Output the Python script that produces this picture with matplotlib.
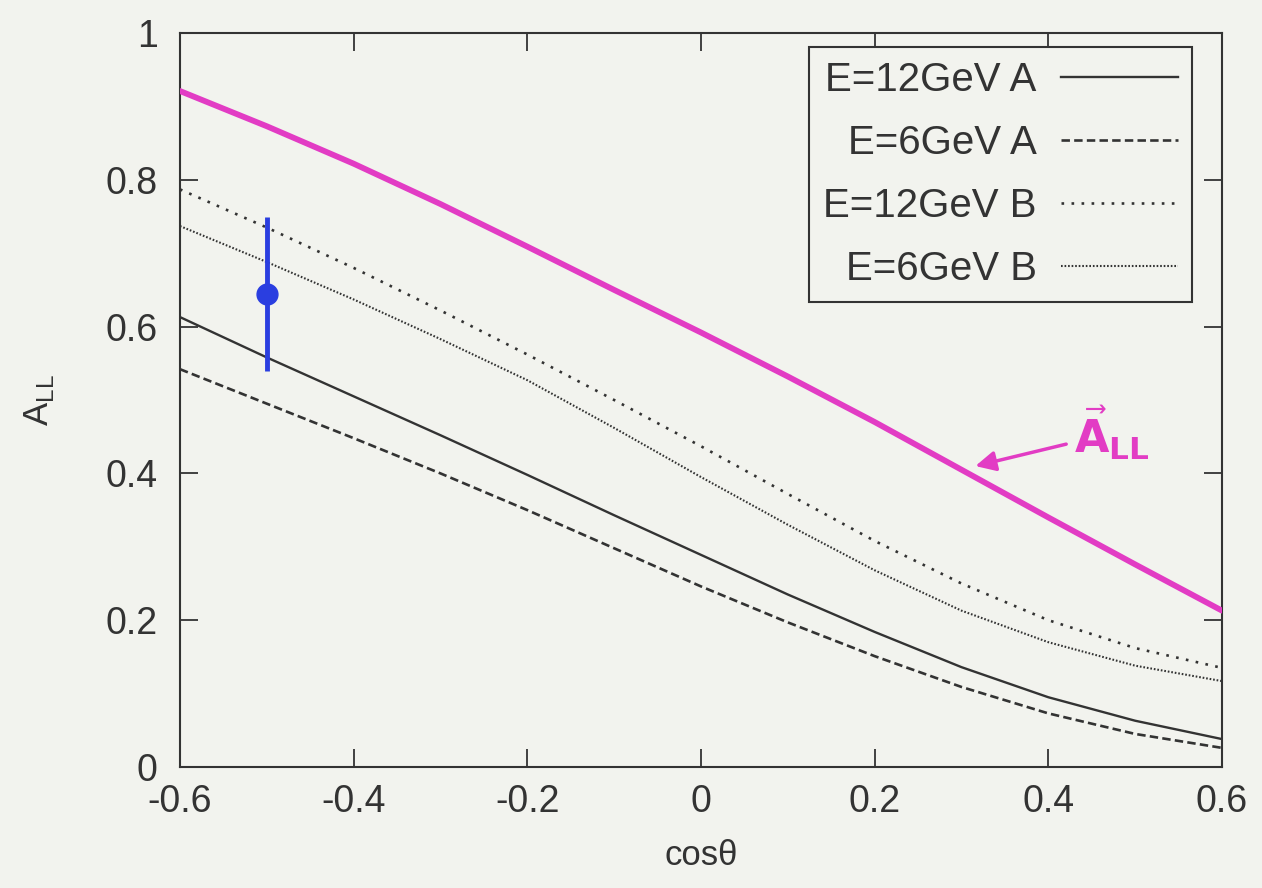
import matplotlib
matplotlib.use("Agg")
import matplotlib.pyplot as plt

plt.rcParams['font.family'] = ['Liberation Sans', 'DejaVu Sans']

# ---- data ----
cos_theta = [-0.6, -0.5, -0.4, -0.3, -0.2, -0.1, 0.0, 0.1, 0.2, 0.3, 0.4, 0.5, 0.6]
all_12A = [0.613, 0.558, 0.505, 0.452, 0.398, 0.343, 0.289, 0.235, 0.184, 0.136, 0.095, 0.063, 0.038]
all_6A = [0.542, 0.495, 0.448, 0.400, 0.350, 0.298, 0.246, 0.197, 0.151, 0.109, 0.073, 0.045, 0.026]
all_12B = [0.787, 0.735, 0.680, 0.622, 0.562, 0.500, 0.437, 0.372, 0.308, 0.250, 0.200, 0.162, 0.135]
all_6B = [0.737, 0.688, 0.637, 0.583, 0.527, 0.462, 0.395, 0.330, 0.268, 0.213, 0.170, 0.138, 0.117]
all_hat = [0.921, 0.873, 0.822, 0.767, 0.709, 0.650, 0.592, 0.532, 0.470, 0.405, 0.340, 0.276, 0.213]

point_x = [-0.5]
point_y = [0.645]
point_err = [0.105]

labels = ["E=12GeV A", "E=6GeV A", "E=12GeV B", "E=6GeV B"]
xticks = [-0.6, -0.4, -0.2, 0, 0.2, 0.4, 0.6]
xticklabels = ["-0.6", "-0.4", "-0.2", "0", "0.2", "0.4", "0.6"]
yticks = [0, 0.2, 0.4, 0.6, 0.8, 1]
yticklabels = ["0", "0.2", "0.4", "0.6", "0.8", "1"]

bg = '#f2f3ee'
ink = '#333333'
magenta = '#e23cc4'
blue = '#2a3ee0'

fig = plt.figure(figsize=(12.62, 8.88), dpi=100, facecolor=bg)
ax = fig.add_axes([0.1426, 0.1363, 0.8257, 0.8265])
ax.set_facecolor(bg)

ax.plot(cos_theta, all_12A, color=ink, lw=1.7, ls='-', label=labels[0])
ax.plot(cos_theta, all_6A, color=ink, lw=1.9, ls=(0, (3.2, 1.6)), label=labels[1])
ax.plot(cos_theta, all_12B, color=ink, lw=1.9, ls=(0, (1.0, 2.8)), label=labels[2])
ax.plot(cos_theta, all_6B, color=ink, lw=1.5, ls=(0, (0.8, 0.9)), label=labels[3])

ax.plot(cos_theta, all_hat, color=magenta, lw=4.2, solid_capstyle='round', zorder=4)

ax.errorbar(point_x, point_y, yerr=point_err, fmt='o', color=blue, ms=15,
            elinewidth=3.5, capsize=0, zorder=5)

ax.annotate(r'$\vec{\mathbf{A}}_{\mathbf{LL}}$', xy=(0.316, 0.41), xytext=(0.43, 0.455),
            color=magenta, fontsize=32,
            ha='left', va='center',
            arrowprops=dict(arrowstyle='-|>', color=magenta, lw=2.5,
                            mutation_scale=30, shrinkA=4, shrinkB=0))

ax.set_xlim(-0.6, 0.6)
ax.set_ylim(0, 1)
ax.set_xticks(xticks)
ax.set_xticklabels(xticklabels)
ax.set_yticks(yticks)
ax.set_yticklabels(yticklabels)
ax.tick_params(direction='in', length=13, width=1.3, top=True, right=True,
               labelsize=27, colors=ink)
ax.tick_params(axis='x', pad=12)
ax.tick_params(axis='y', pad=16)
for s in ax.spines.values():
    s.set_color(ink)
    s.set_linewidth(1.5)

ax.set_xlabel('cosθ', fontsize=25, color=ink, labelpad=14)
ax.set_ylabel(r'A$_{\mathregular{LL}}$', fontsize=25, color=ink, labelpad=36)

leg = ax.legend(loc='upper right', bbox_to_anchor=(0.971, 0.981),
                borderaxespad=0, markerfirst=False, fontsize=29,
                handlelength=2.9, handletextpad=0.6, labelspacing=0.62,
                fancybox=False, framealpha=1, facecolor=bg, edgecolor=ink,
                borderpad=0.35)
leg.get_frame().set_linewidth(1.5)
for t in leg.get_texts():
    t.set_color(ink)

fig.savefig('out.png', dpi=100, facecolor=bg)
